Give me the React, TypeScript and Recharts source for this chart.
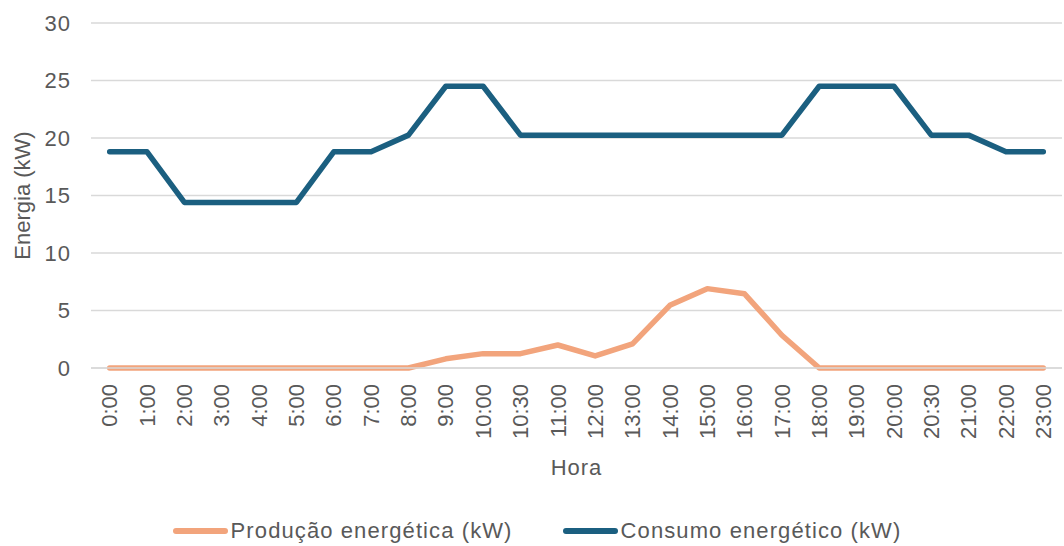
import React from 'react';
import { LineChart, Line, XAxis, YAxis, CartesianGrid, Legend } from 'recharts';

const hours = ['0:00','1:00','2:00','3:00','4:00','5:00','6:00','7:00','8:00','9:00','10:00','10:30','11:00','12:00','13:00','14:00','15:00','16:00','17:00','18:00','19:00','20:00','20:30','21:00','22:00','23:00'];
const producao = [0,0,0,0,0,0,0,0,0,0.8,1.25,1.25,2.0,1.05,2.1,5.45,6.9,6.45,2.85,0,0,0,0,0,0,0];
const consumo = [18.8,18.8,14.4,14.4,14.4,14.4,18.8,18.8,20.25,24.5,24.5,20.25,20.25,20.25,20.25,20.25,20.25,20.25,20.25,24.5,24.5,24.5,20.25,20.25,18.8,18.8];
const yTicks = [0,5,10,15,20,25,30];
const seriesNames = ['Produção energética (kW)', 'Consumo energético (kW)'];

const data = hours.map((h, i) => ({ hora: h, producao: producao[i], consumo: consumo[i] }));

const ORANGE = '#F2A47C';
const NAVY = '#1B5F80';
const TEXT = '#595959';
const FONT = '"Liberation Sans", Arial, sans-serif';
const FS = 22;

const XTick = (props: any) => {
  const { x, y, payload } = props;
  return (
    <g transform={`translate(${x},${y})`}>
      <text transform="rotate(-90)" x={-16} y={0} dy="0.35em" textAnchor="end" fill={TEXT} fontSize={FS} fontFamily={FONT}>
        {payload.value}
      </text>
    </g>
  );
};

const YTick = (props: any) => {
  const { x, y, payload } = props;
  return (
    <text x={x} y={y} dy="0.35em" textAnchor="end" fill={TEXT} fontSize={FS} fontFamily={FONT} letterSpacing={1}>
      {payload.value}
    </text>
  );
};

const LegendContent = () => (
  <div style={{ height: 40, display: 'flex', alignItems: 'center', justifyContent: 'center', paddingTop: 10, paddingLeft: 12, boxSizing: 'border-box', fontFamily: FONT, fontSize: FS, color: TEXT, letterSpacing: 1.1 }}>
    {[ORANGE, NAVY].map((c, i) => (
      <div key={i} style={{ display: 'flex', alignItems: 'center', marginLeft: i === 0 ? 0 : 50 }}>
        <span style={{ display: 'inline-block', width: 55, height: 6, borderRadius: 3, background: c, marginRight: 3 }} />
        <span style={{ whiteSpace: 'nowrap' }}>{seriesNames[i]}</span>
      </div>
    ))}
  </div>
);

export default function App() {
  return (
    <div style={{ position: 'absolute', left: 0, top: 0, width: 1064, height: 546, background: '#fff' }}>
      <LineChart width={1064} height={546} data={data} margin={{ top: 23, right: 2, bottom: 0, left: 0 }}>
        <CartesianGrid vertical={false} stroke="#d9d9d9" strokeWidth={1.5} />
        <XAxis
          dataKey="hora"
          interval={0}
          padding={{ left: 18.7, right: 18.7 }}
          height={138}
          tick={<XTick />}
          tickLine={false}
          tickSize={0}
          tickMargin={0}
          axisLine={{ stroke: '#d9d9d9', strokeWidth: 1.5 }}
          label={{
            content: (p: any) => {
              const vb = p.viewBox;
              return (
                <text x={vb.x + vb.width / 2} y={vb.y + 99} dy="0.35em" textAnchor="middle" fill={TEXT} fontSize={FS} fontFamily={FONT} letterSpacing={1}>Hora</text>
              );
            },
          }}
        />
        <YAxis
          domain={[0, 30]}
          ticks={yTicks}
          width={91}
          tickLine={false}
          axisLine={false}
          tickSize={0}
          tickMargin={20}
          tick={<YTick />}
          label={{
            content: (p: any) => {
              const vb = p.viewBox;
              const cx = 22;
              const cy = vb.y + vb.height / 2;
              return (
                <text x={cx} y={cy} dy="0.35em" transform={`rotate(-90, ${cx}, ${cy})`} textAnchor="middle" fill={TEXT} fontSize={FS} fontFamily={FONT}>Energia (kW)</text>
              );
            },
          }}
        />
        <Legend verticalAlign="bottom" content={<LegendContent />} />
        <Line type="linear" dataKey="producao" name={seriesNames[0]} stroke={ORANGE} strokeWidth={5.5} strokeLinejoin="round" strokeLinecap="round" dot={false} activeDot={false} isAnimationActive={false} />
        <Line type="linear" dataKey="consumo" name={seriesNames[1]} stroke={NAVY} strokeWidth={5.5} strokeLinejoin="round" strokeLinecap="round" dot={false} activeDot={false} isAnimationActive={false} />
      </LineChart>
    </div>
  );
}
